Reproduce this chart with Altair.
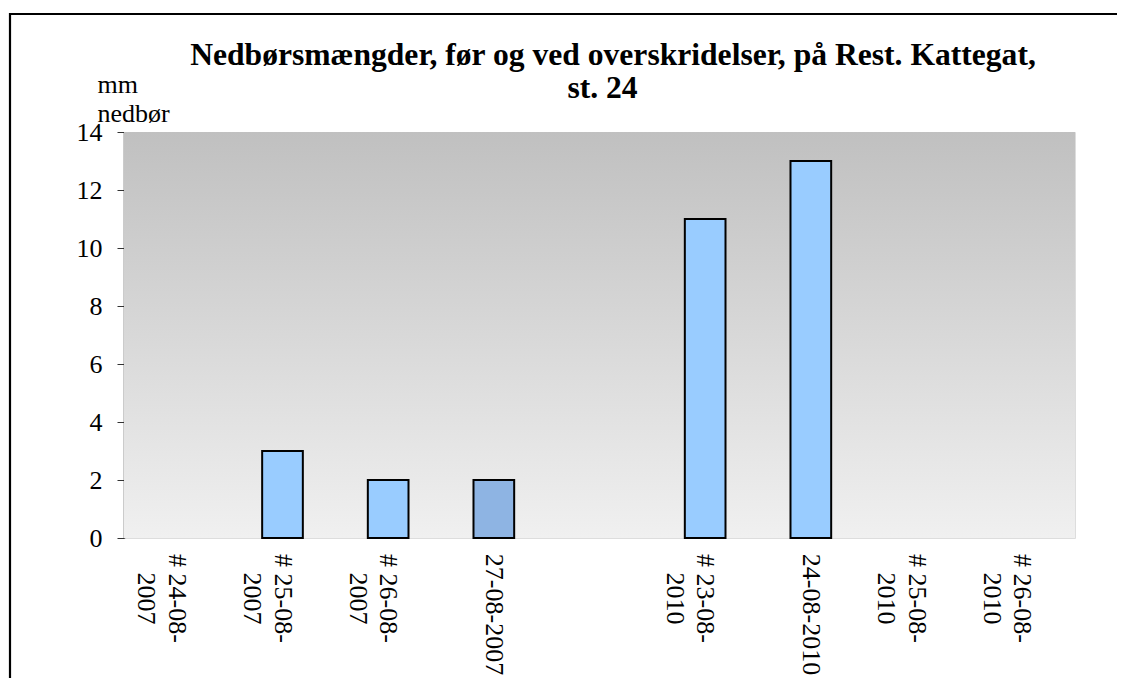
import altair as alt
import pandas as pd

categories = ["# 24-08-2007", "# 25-08-2007", "# 26-08-2007", "27-08-2007", " ",
              "# 23-08-2010", "24-08-2010", "# 25-08-2010", "# 26-08-2010"]
values = [0, 3, 2, 2, None, 11, 13, 0, 0]
bar_colors = ["#99ccff", "#99ccff", "#99ccff", "#8eb4e3", "#99ccff",
              "#99ccff", "#99ccff", "#99ccff", "#99ccff"]
title_line1 = "Nedbørsmængder, før og ved overskridelser, på Rest. Kattegat,"
title_line2 = "st. 24"
y_title = ["mm", "nedbør"]
y_ticks = [0, 2, 4, 6, 8, 10, 12, 14]

W, H = 951, 406
FONT = "Times New Roman, Liberation Serif, Tinos, serif"
FS = 26

df = pd.DataFrame({"cat": categories, "val": values, "col": bar_colors})
bars_df = df[df["val"].fillna(0) > 0]
one = pd.DataFrame({"a": [0]})

xscale = alt.Scale(domain=categories, paddingInner=0, paddingOuter=0)

bg = alt.Chart(one).mark_rect(
    fill=alt.Gradient(
        gradient="linear",
        stops=[alt.GradientStop(color="#c0c0c0", offset=0),
               alt.GradientStop(color="#f0f0f0", offset=1)],
        x1=0, x2=0, y1=0, y2=1),
).encode(x=alt.value(0), x2=alt.value(W), y=alt.value(0), y2=alt.value(H))

bars = alt.Chart(bars_df).mark_bar(
    width={"band": 0.385}, stroke="black", strokeWidth=2
).encode(
    x=alt.X("cat:N", sort=categories, scale=xscale,
            axis=alt.Axis(title=None, labels=False,
                          tickBand="extent", tickSize=7, tickColor="#333",
                          domainColor="#333", domainWidth=1.5)),
    y=alt.Y("val:Q", scale=alt.Scale(domain=[0, 14], nice=False),
            axis=alt.Axis(values=y_ticks, title=y_title, titleAngle=0, titleAlign="left",
                          titleBaseline="alphabetic", titleX=-27, titleY=-40,
                          titleFont=FONT, titleFontSize=FS, titleFontWeight="normal",
                          titleLineHeight=29.5, titleColor="black",
                          labelFont=FONT, labelFontSize=FS, labelColor="black",
                          labelPadding=15, tickSize=7, tickColor="#333",
                          domainColor="#333", domainWidth=1.5, grid=False)),
    fill=alt.Fill("col:N", scale=None),
)

# x tick labels (two-line ones, lines centred on each other, block starting below the ticks)
lab_multi = alt.Chart(df).transform_filter(
    "substring(datum.cat, 0, 1) == '#'"
).transform_calculate(
    lab="[substring(datum.cat, 0, 8), substring(datum.cat, 8)]"
).mark_text(
    font=FONT, fontSize=FS, color="black", angle=90, align="center",
    baseline="middle", lineHeight=30.5
).encode(
    x=alt.X("cat:N", sort=categories, scale=xscale, axis=None),
    y=alt.value(466.5),
    text=alt.Text("lab:N"),
)

lab_single = alt.Chart(df).transform_filter(
    "substring(datum.cat, 0, 1) != '#' && datum.cat != ' '"
).mark_text(
    font=FONT, fontSize=FS, color="black", angle=90, align="center",
    baseline="middle"
).encode(
    x=alt.X("cat:N", sort=categories, scale=xscale, axis=None),
    y=alt.value(482.5),
    text=alt.Text("cat:N"),
)

t1 = alt.Chart(one).mark_text(
    font=FONT, fontSize=31.6, fontWeight="bold", color="black",
    align="center", baseline="alphabetic"
).encode(x=alt.value(489), y=alt.value(-67), text=alt.value(title_line1))

t2 = alt.Chart(one).mark_text(
    font=FONT, fontSize=31.6, fontWeight="bold", color="black",
    align="center", baseline="alphabetic"
).encode(x=alt.value(478.5), y=alt.value(-34), text=alt.value(title_line2))

border_top = alt.Chart(one).mark_rule(color="black", strokeWidth=2.2).encode(
    x=alt.value(-115), x2=alt.value(993), y=alt.value(-118))
border_left = alt.Chart(one).mark_rule(color="black", strokeWidth=2.2).encode(
    x=alt.value(-114), y=alt.value(-119), y2=alt.value(546))

chart = alt.layer(bg, bars, lab_multi, lab_single, t1, t2, border_top, border_left).properties(
    width=W, height=H,
    padding={"left": 116, "top": 124, "right": 42, "bottom": 140},
    autosize="none",
).configure_view(stroke="#888888", strokeWidth=2).configure(background="white")

chart.save("out.html", embed_options={"renderer": "svg", "actions": False})
